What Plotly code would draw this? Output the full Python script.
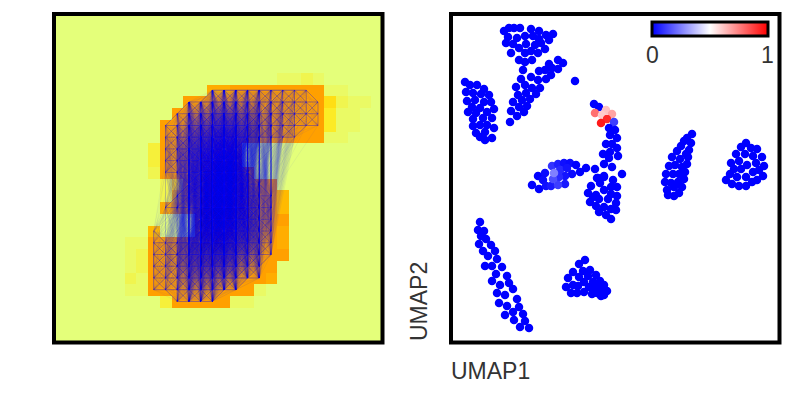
import plotly.graph_objects as go

W, H = 793, 397

# digit image, one string per row, brightness 0-9
digit_rows = [
    "0000000000000000000000000000",
    "0000000000000000000000000000",
    "0000000000000000000000000000",
    "0000000000000000000000000000",
    "0000000000000000000000000000",
    "0000000000000000000112100000",
    "0000000000000889999999911000",
    "0000000000099999999999952110",
    "0000000000999999999999941100",
    "0000000009999999999999941100",
    "0000000009999999999999911000",
    "0000000039999999000000000000",
    "0000000039999999000000000000",
    "0000000029999999900000000000",
    "0000000002599999999000000000",
    "0000000002799999999700000000",
    "0000000008889999999700000000",
    "0000000000009999999900000000",
    "0000000070009999999800000000",
    "0000001199999999999800000000",
    "0000001299999999999900000000",
    "0000001299999999999000000000",
    "0000002199999999998000000000",
    "0000001199999999910000000000",
    "0000000003999991100000000000",
    "0000000000000000000000000000",
    "0000000000000000000000000000",
    "0000000000000000000000000000",
]
wistia = [[0, "#e4ff7a"], [0.5, "#ffe81a"], [0.75, "#ffbd00"], [1, "#ffa000"]]

# graph nodes: row -> column spans of pixels kept as nodes
node_spans = {
    6: [(13, 21)], 7: [(11, 22)], 8: [(10, 22)], 9: [(9, 22)], 10: [(9, 20)],
    11: [(9, 15)], 12: [(9, 15)], 13: [(9, 16)], 14: [(11, 17)],
    15: [(10, 18)], 16: [(9, 18)], 17: [(12, 18)], 18: [(8, 8), (12, 18)],
    19: [(8, 18)], 20: [(8, 18)], 21: [(8, 17)], 22: [(8, 17)],
    23: [(8, 15)], 24: [(10, 13)],
}

# UMAP scatter, one pair of lists per cluster (values default to 0)
top_x = [504, 509, 514, 520, 531, 539, 508, 517, 525, 533, 546, 553, 539, 549, 506, 513, 526, 535, 541, 519, 545, 511, 525, 531, 538, 519, 525, 532]
top_y = [31, 28, 28, 28, 29, 31, 37, 38, 36, 36, 35, 34, 39, 40, 43, 44, 44, 45, 43, 48, 49, 53, 53, 51, 53, 60, 62, 60]

wedge_x = [558, 563, 549, 558, 552, 545, 539, 551, 546, 538, 531, 521, 523, 525, 516, 532, 540, 526, 518, 536, 530, 522, 513, 527, 519, 511, 524, 517, 510, 575]
wedge_y = [60, 63, 64, 69, 68, 70, 71, 75, 79, 80, 77, 79, 70, 85, 87, 88, 88, 93, 95, 94, 99, 100, 102, 106, 107, 111, 112, 116, 122, 81]

left_x = [465, 470, 477, 484, 466, 473, 481, 489, 467, 475, 484, 491, 472, 480, 494, 468, 476, 487, 473, 483, 492, 473, 480, 487, 494, 476, 485, 480, 492, 485]
left_y = [82, 85, 85, 89, 92, 93, 94, 95, 101, 100, 102, 102, 107, 108, 109, 112, 113, 112, 119, 118, 118, 126, 125, 125, 128, 133, 132, 137, 138, 140]

column_x = [594, 599, 606, 595, 602, 612, 607, 601, 614, 609, 615, 610, 617, 606, 612, 617, 610, 603, 609, 618, 604, 612, 595, 586, 622]
column_y = [104, 107, 110, 113, 115, 114, 119, 123, 122, 128, 130, 135, 138, 144, 144, 148, 152, 154, 158, 156, 164, 167, 169, 168, 174]
column_v = [0, 0, 0.62, 0.78, 0.6, 0.68, 0.92, 0.95, 0.12, 0, 0, 0, 0, 0, 0, 0, 0, 0, 0, 0, 0, 0, 0, 0, 0]

blob_x = [604, 597, 598, 604, 613, 600, 591, 611, 617, 604, 588, 596, 611, 599, 617, 593, 608, 590, 616, 596, 604, 611, 616, 599, 606, 611]
blob_y = [176, 178, 178, 177, 180, 183, 186, 187, 187, 190, 193, 195, 194, 199, 196, 197, 199, 202, 203, 206, 207, 209, 210, 212, 215, 219]

mid_x = [532, 538, 539, 545, 543, 546, 551, 552, 558, 564, 570, 576, 580, 572, 565, 560, 567, 559, 565, 558, 553, 554]
mid_y = [185, 176, 189, 173, 180, 186, 186, 166, 164, 163, 163, 165, 172, 174, 176, 170, 168, 177, 184, 185, 179, 173]
mid_v = [0, 0, 0, 0.02, 0.02, 0.03, 0.05, 0.1, 0.06, 0.03, 0.02, 0, 0, 0.02, 0.04, 0.08, 0.04, 0.08, 0.05, 0.12, 0.15, 0.25]

strip_x = [480, 478, 484, 481, 486, 479, 491, 483, 495, 488, 497, 485, 492, 502, 496, 507, 492, 509, 500, 513, 497, 505, 517, 499, 507, 519, 513, 523, 505, 514, 525, 520, 529]
strip_y = [222, 230, 231, 236, 239, 244, 245, 251, 251, 256, 259, 266, 266, 267, 274, 276, 281, 283, 285, 289, 293, 295, 299, 303, 306, 307, 312, 314, 315, 320, 321, 327, 328]

low_x = [585, 579, 590, 583, 573, 596, 579, 588, 568, 600, 584, 593, 604, 573, 566, 578, 589, 594, 598, 607, 604, 571, 577, 584, 592, 597, 601, 604, 600]
low_y = [260, 264, 270, 271, 272, 275, 277, 276, 278, 281, 282, 282, 285, 285, 287, 286, 287, 287, 287, 291, 290, 293, 293, 292, 294, 293, 296, 295, 292]

leaf_x = [692, 687, 684, 691, 681, 689, 677, 686, 672, 680, 688, 669, 675, 682, 687, 666, 673, 679, 685, 684, 665, 671, 678, 674, 682, 667, 679, 668, 674]
leaf_y = [134, 138, 141, 143, 146, 150, 151, 154, 157, 159, 157, 166, 165, 167, 164, 174, 174, 174, 172, 179, 182, 183, 182, 187, 187, 190, 193, 195, 196]

round_x = [746, 741, 751, 757, 736, 745, 753, 762, 739, 731, 747, 756, 764, 734, 741, 759, 753, 730, 737, 746, 763, 757, 726, 752, 732, 739, 746]
round_y = [143, 147, 148, 149, 154, 154, 156, 157, 161, 163, 165, 163, 166, 169, 169, 170, 172, 174, 177, 177, 176, 180, 180, 182, 184, 186, 186]

umap1 = top_x + wedge_x + left_x + blob_x + strip_x + low_x + leaf_x + round_x + mid_x + column_x
umap2 = top_y + wedge_y + left_y + blob_y + strip_y + low_y + leaf_y + round_y + mid_y + column_y
n_plain = len(umap1) - len(mid_x) - len(column_x)
values = [0] * n_plain + mid_v + column_v

z = [[int(c) for c in row] for row in digit_rows]

nodes = []
for r, spans in node_spans.items():
    for a, b in spans:
        for c in range(a, b + 1):
            nodes.append((c, r))

fig = go.Figure()
fig.add_trace(go.Heatmap(z=z, colorscale=wistia, zmin=0, zmax=9, showscale=False,
                         hoverinfo="skip", xaxis="x", yaxis="y"))

# near neighbours share one trace, far edges get one trace per node so they build up
near_x, near_y = [], []
for i, (c, r) in enumerate(nodes):
    far_x, far_y = [], []
    for c2, r2 in nodes[i + 1:]:
        dc, dr = abs(c2 - c), abs(r2 - r)
        central = 11 <= c <= 17 and 11 <= c2 <= 17
        if dc <= 1 and dr <= 1:
            near_x += [c, c2, None]
            near_y += [r, r2, None]
        elif (dr <= 15 and dc <= 2 and max(c, c2) > 10) or (dr <= 3 and dc <= 3) \
                or (central and dr <= 15 and dc <= 4) or (4 <= dr <= 6 and c2 <= c and c - c2 <= 4):
            far_x += [c, c2, None]
            far_y += [r, r2, None]
    if far_x:
        fig.add_trace(go.Scatter(x=far_x, y=far_y, mode="lines", hoverinfo="skip",
                                 line=dict(color="rgba(0,0,255,0.12)", width=0.45),
                                 xaxis="x", yaxis="y", showlegend=False))
fig.add_trace(go.Scatter(x=near_x, y=near_y, mode="lines", hoverinfo="skip",
                         line=dict(color="rgba(0,0,255,0.5)", width=0.6),
                         xaxis="x", yaxis="y", showlegend=False))

fig.add_trace(go.Scatter(
    x=umap1, y=umap2, mode="markers", xaxis="x2", yaxis="y2", showlegend=False,
    marker=dict(
        size=8.5, color=values, cmin=0, cmax=1,
        colorscale=[[0, "#0000ff"], [0.5, "#ffffff"], [1, "#ff0000"]],
        colorbar=dict(
            orientation="h", x=652 / W, xanchor="left", y=1 - 39 / H, yanchor="bottom",
            len=116 / W, lenmode="fraction", thickness=14, thicknessmode="pixels",
            outlinewidth=3, outlinecolor="black", xpad=0, ypad=0,
            showticklabels=False, ticks="",
        ),
    ),
))


def px_box(x0, x1, y0, y1):
    return dict(type="rect", xref="paper", yref="paper", x0=x0 / W, x1=x1 / W,
                y0=1 - y1 / H, y1=1 - y0 / H, line=dict(color="black", width=4),
                fillcolor="rgba(0,0,0,0)", layer="above")


def label(text, x, y, anchor="left", angle=0):
    return dict(text=text, xref="paper", yref="paper", x=x / W, y=1 - y / H,
                xanchor=anchor, yanchor="middle", textangle=angle, showarrow=False,
                font=dict(size=23, color="#333333"))


axis = dict(showticklabels=False, ticks="", showgrid=False, zeroline=False)
fig.update_layout(
    width=W, height=H, margin=dict(l=0, r=0, t=0, b=0, autoexpand=False),
    paper_bgcolor="white", plot_bgcolor="white",
    font=dict(family="Liberation Sans, Arial, sans-serif"),
    xaxis=dict(domain=[54 / W, 382.5 / W], range=[-0.5, 27.5], **axis),
    yaxis=dict(domain=[1 - 342.5 / H, 1 - 14 / H], range=[27.5, -0.5], **axis),
    xaxis2=dict(domain=[451 / W, 779.5 / W], range=[451, 779.5], **axis),
    yaxis2=dict(domain=[1 - 342.5 / H, 1 - 14 / H], range=[342.5, 14], anchor="x2", **axis),
    shapes=[px_box(54, 382.5, 14, 342.5), px_box(451, 779.5, 14, 342.5)],
    annotations=[
        label("UMAP1", 449, 371),
        label("UMAP2", 419, 302, anchor="center", angle=-90),
        label("0", 652, 55, anchor="center"),
        label("1", 767, 55, anchor="center"),
    ],
)

fig.write_html("out.html", config={"displayModeBar": False},
               post_script="document.body.style.margin='0';")
